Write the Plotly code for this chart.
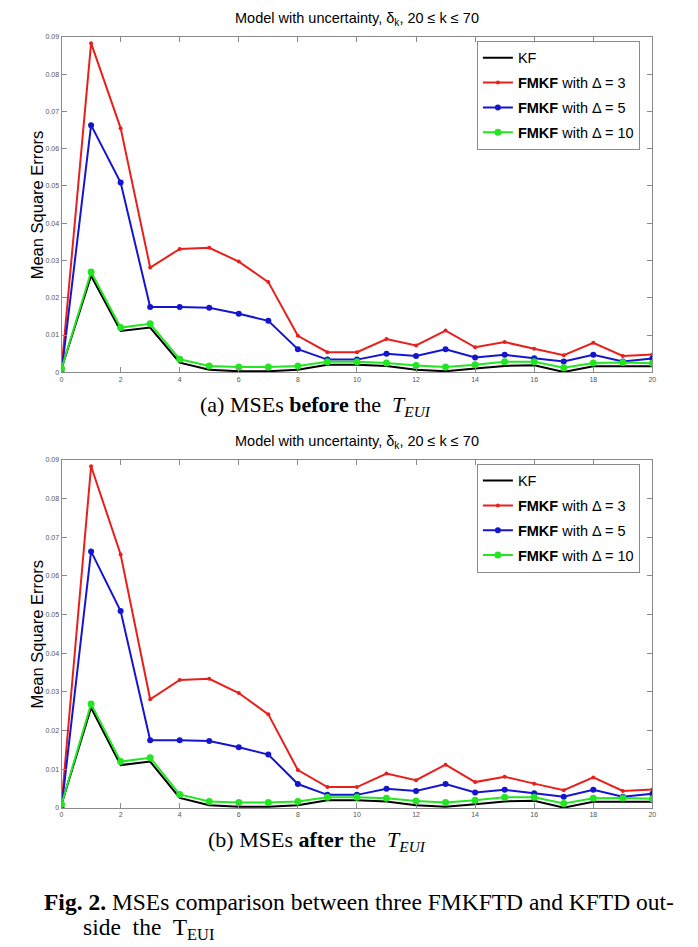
import plotly.graph_objects as go

k = list(range(21))
kf = [0.0010, 0.0259, 0.0111, 0.0120, 0.0026, 0.0007, 0.0003, 0.0003, 0.0007, 0.0020, 0.0020,
      0.0017, 0.0007, 0.0003, 0.0010, 0.0017, 0.0019, 0.0001, 0.0016, 0.0016, 0.0016]
fm3 = [0.0010, 0.0883, 0.0655, 0.0281, 0.0331, 0.0334, 0.0297, 0.0242, 0.0098, 0.0054, 0.0054,
       0.0089, 0.0072, 0.0112, 0.0067, 0.0081, 0.0063, 0.0046, 0.0079, 0.0044, 0.0048]
fm5 = [0.0000, 0.0663, 0.0509, 0.0175, 0.0175, 0.0173, 0.0157, 0.0138, 0.0062, 0.0034, 0.0034,
       0.0050, 0.0044, 0.0062, 0.0040, 0.0047, 0.0038, 0.0029, 0.0047, 0.0029, 0.0037]
fm10 = [0.0010, 0.0269, 0.0120, 0.0130, 0.0035, 0.0017, 0.0014, 0.0014, 0.0017, 0.0028, 0.0028,
        0.0025, 0.0018, 0.0014, 0.0020, 0.0028, 0.0028, 0.0012, 0.0025, 0.0026, 0.0024]

names = ["KF", "<b>FMKF</b> with Δ = 3", "<b>FMKF</b> with Δ = 5", "<b>FMKF</b> with Δ = 10"]
series = [kf, fm3, fm5, fm10]
colors = ["#000000", "#e8201c", "#1515d0", "#22e622"]
msizes = [0, 4, 6, 7]

# page body has an 8px margin; the figure is sized to fill the rest of the window
OFF = 8
W, H = 698 - OFF, 947 - OFF


def px(p):
    return (p - OFF) / W


def py(p):
    return 1 - (p - OFF) / H


fig = go.Figure()
panels = [
    dict(xa="x", ya="y", leg="legend", top=33, bot=371),
    dict(xa="x2", ya="y2", leg="legend2", top=459, bot=810),
]
for p in panels:
    for i, (nm, vals) in enumerate(zip(names, series)):
        fig.add_trace(go.Scatter(
            x=k, y=vals, name=nm, xaxis=p["xa"], yaxis=p["ya"], legend=p["leg"],
            legendgroup=p["leg"] + str(i),
            mode="lines" if msizes[i] == 0 else "lines+markers",
            line=dict(color=colors[i], width=2),
            marker=dict(size=msizes[i], color=colors[i], symbol="circle"),
            legendrank=i, showlegend=True,
        ))

axis_common = dict(showline=True, linecolor="#8a8a8a", linewidth=1, mirror="ticks",
                   ticks="inside", ticklen=5, tickcolor="#8a8a8a", showgrid=False, zeroline=False,
                   tickfont=dict(family="Liberation Sans", size=7, color="#555555"))
xdom = [px(60), px(656)]
fig.update_layout(
    width=W, height=H, margin=dict(l=0, r=0, t=0, b=0),
    paper_bgcolor="white", plot_bgcolor="white", showlegend=True,
    xaxis=dict(domain=xdom, range=[0, 20], dtick=2, anchor="y", **axis_common),
    yaxis=dict(domain=[py(371), py(33)], range=[0, 0.09], dtick=0.01, anchor="x", **axis_common),
    xaxis2=dict(domain=xdom, range=[0, 20], dtick=2, anchor="y2", **axis_common),
    yaxis2=dict(domain=[py(810), py(459)], range=[0, 0.09], dtick=0.01, anchor="x2", **axis_common),
)
leg_common = dict(xanchor="left", yanchor="top", bgcolor="white", bordercolor="#8a8a8a", borderwidth=1,
                  font=dict(family="Liberation Sans", size=14.5, color="black"), itemwidth=30,
                  tracegroupgap=3)
fig.update_layout(
    legend=dict(x=px(479), y=py(37), **leg_common),
    legend2=dict(x=px(479), y=py(463), **leg_common),
)

ann = []
for p, ttl_y in [(panels[0], 15), (panels[1], 441)]:
    ann.append(dict(text="Model with uncertainty, δ<sub>k</sub>, 20 ≤ k ≤ 70", x=px(358), y=py(ttl_y),
                    xref="paper", yref="paper", showarrow=False, xanchor="center", yanchor="middle",
                    font=dict(family="Liberation Sans", size=14.5, color="black")))
    ann.append(dict(text="Mean Square Errors", x=px(35), y=py((p["top"] + p["bot"]) / 2), textangle=-90,
                    xref="paper", yref="paper", showarrow=False, xanchor="center", yanchor="middle",
                    font=dict(family="Liberation Sans", size=16.5, color="black")))

ann.append(dict(text="(a) MSEs <b>before</b> the  <i>T<sub>EUI</sub></i>", x=px(198), y=py(405),
                xref="paper", yref="paper", showarrow=False, xanchor="left", yanchor="middle",
                font=dict(family="Liberation Serif", size=22, color="black")))
ann.append(dict(text="(b) MSEs <b>after</b> the  <i>T<sub>EUI</sub></i>", x=px(206), y=py(843),
                xref="paper", yref="paper", showarrow=False, xanchor="left", yanchor="middle",
                font=dict(family="Liberation Serif", size=22, color="black")))
ann.append(dict(text="<b>Fig. 2.</b> MSEs comparison between three FMKFTD and KFTD out-", x=px(40), y=py(905),
                xref="paper", yref="paper", showarrow=False, xanchor="left", yanchor="middle",
                font=dict(family="Liberation Serif", size=23.5, color="black")))
ann.append(dict(text="side  the  T<sub>EUI</sub>", x=px(80), y=py(932),
                xref="paper", yref="paper", showarrow=False, xanchor="left", yanchor="middle",
                font=dict(family="Liberation Serif", size=23.5, color="black")))
fig.update_layout(annotations=ann)

fig.write_html("out.html")
